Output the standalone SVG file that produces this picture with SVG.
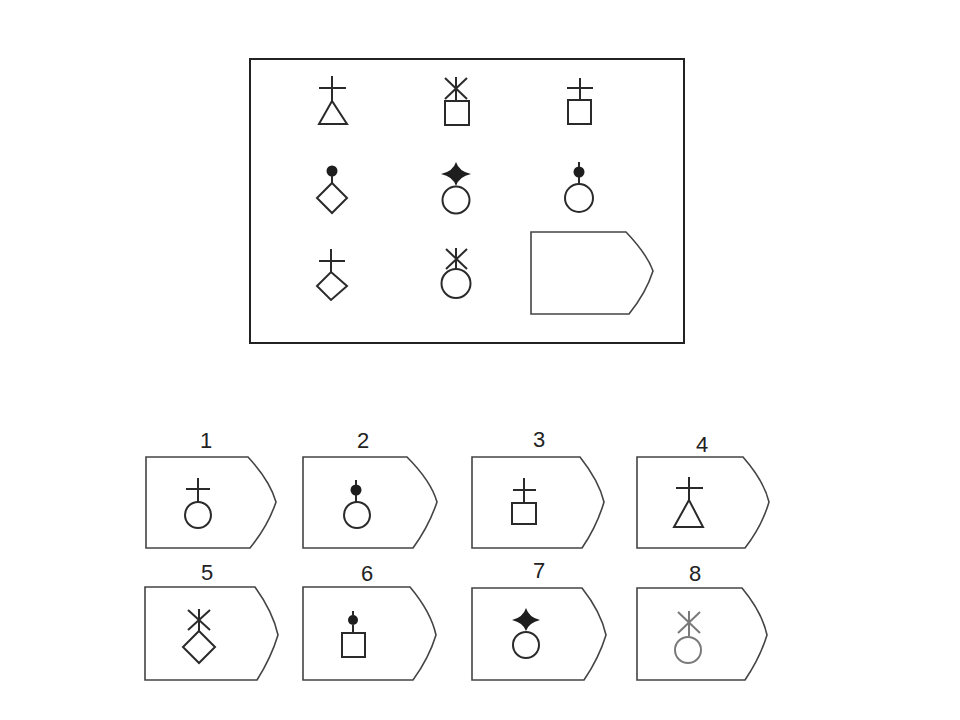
<svg xmlns="http://www.w3.org/2000/svg" width="960" height="720" viewBox="0 0 960 720">
<style>
.s{fill:none;stroke:#2a2a2a;stroke-width:2;stroke-linejoin:miter}
.f{fill:#1e1e1e;stroke:none}
.b{fill:#fff;stroke:#444;stroke-width:1.6}
.lt{stroke:#7a7a7a}
.lbl{font-family:"Liberation Sans",Arial,sans-serif;font-size:22px;fill:#222;text-anchor:middle}
</style>
<rect width="960" height="720" fill="#fff"/>
<g id="matrix">
<rect x="250" y="59" width="434" height="284" fill="none" stroke="#222" stroke-width="2"/>
<g id="m11" class="s"><line x1="319" y1="88" x2="346" y2="88"/><line x1="332" y1="76" x2="332" y2="101"/><polygon points="332,101 319,124 347,124"/></g>
<g id="m12" class="s"><line x1="445" y1="78" x2="467" y2="99"/><line x1="467" y1="78" x2="445" y2="99"/><line x1="456" y1="77" x2="456" y2="101"/><rect x="445" y="101" width="24" height="24"/></g>
<g id="m13" class="s"><line x1="567" y1="88" x2="593" y2="88"/><line x1="580" y1="78" x2="580" y2="100"/><rect x="568" y="100" width="23" height="24"/></g>
<g id="m21"><circle class="f" cx="332" cy="171" r="5.5"/><g class="s"><line x1="332" y1="176" x2="332" y2="183"/><polygon points="332,183 347,198 332,213 317,198"/></g></g>
<g id="m22"><path class="f" d="M441,174 Q453,171.5 456,162 Q459,171.5 471,174 Q459,176.5 456,186 Q453,176.5 441,174 Z"/><circle class="f" cx="456" cy="174" r="4"/><circle class="s" cx="456" cy="200" r="13.5"/></g>
<g id="m23"><circle class="f" cx="579" cy="172" r="5.5"/><g class="s"><line x1="579" y1="162" x2="579" y2="167"/><line x1="579" y1="177" x2="579" y2="184"/><circle cx="579" cy="198" r="14"/></g></g>
<g id="m31" class="s"><line x1="319" y1="261" x2="345" y2="261"/><line x1="331" y1="249" x2="331" y2="272"/><polygon points="331,272 347,286 331,300 317,286"/></g>
<g id="m32" class="s"><line x1="446" y1="249" x2="467" y2="269"/><line x1="467" y1="249" x2="446" y2="269"/><line x1="456" y1="248" x2="456" y2="269"/><circle cx="456" cy="283.5" r="14.5"/></g>
<g id="m33"><path class="b" d="M531,232 H626 Q647,254 653,271 Q646,293 629,314 H531 Z"/></g>
</g>
<g id="opt1"><text class="lbl" x="206" y="448">1</text><path class="b" d="M146,457 H248 Q270,481 276,502 Q268,526 250,548 H146 Z"/><g class="s"><line x1="186" y1="489" x2="210" y2="489"/><line x1="198" y1="478" x2="198" y2="502"/><circle cx="198" cy="515" r="13"/></g></g>
<g id="opt2"><text class="lbl" x="363" y="448">2</text><path class="b" d="M303,457 H407 Q431,481 437,502 Q429,526 413,548 H303 Z"/><circle class="f" cx="356" cy="490" r="5.5"/><g class="s"><line x1="356" y1="480" x2="356" y2="485"/><line x1="356" y1="495" x2="356" y2="502"/><circle cx="357" cy="515" r="13"/></g></g>
<g id="opt3"><text class="lbl" x="539" y="447">3</text><path class="b" d="M472,457 H580 Q599,481 604,502 Q597,526 582,548 H472 Z"/><g class="s"><line x1="513" y1="490" x2="536" y2="490"/><line x1="524" y1="478" x2="524" y2="503"/><rect x="512" y="503" width="24" height="21"/></g></g>
<g id="opt4"><text class="lbl" x="702" y="452">4</text><path class="b" d="M637,457 H743 Q764,481 769,502 Q762,526 745,548 H637 Z"/><g class="s"><line x1="676" y1="488" x2="703" y2="488"/><line x1="689" y1="477" x2="689" y2="500"/><polygon points="689,500 674,527 703,527"/></g></g>
<g id="opt5"><text class="lbl" x="207" y="580">5</text><path class="b" d="M145,587 H255 Q273,612 278,635 Q271,658 257,680 H145 Z"/><g class="s"><line x1="188" y1="610" x2="210" y2="630"/><line x1="210" y1="610" x2="188" y2="630"/><line x1="199" y1="609" x2="199" y2="631"/><polygon points="199,631 215,647 199,663 183,647"/></g></g>
<g id="opt6"><text class="lbl" x="367" y="581">6</text><path class="b" d="M303,587 H410 Q431,612 436,635 Q429,658 413,680 H303 Z"/><circle class="f" cx="353" cy="620" r="5"/><g class="s"><line x1="353" y1="611" x2="353" y2="616"/><line x1="353" y1="625" x2="353" y2="633"/><rect x="342" y="633" width="23" height="24"/></g></g>
<g id="opt7"><text class="lbl" x="539" y="578">7</text><path class="b" d="M472,588 H582 Q601,612 606,635 Q599,658 584,680 H472 Z"/><path class="f" d="M512,620 Q523,617.5 526,608 Q529,617.5 540,620 Q529,622.5 526,631 Q523,622.5 512,620 Z"/><circle class="f" cx="526" cy="620" r="4"/><circle class="s" cx="526" cy="645" r="13"/></g>
<g id="opt8"><text class="lbl" x="695" y="581">8</text><path class="b" d="M637,588 H742 Q762,612 767,635 Q760,658 745,680 H637 Z"/><g class="s lt"><line x1="678" y1="612" x2="700" y2="633"/><line x1="700" y1="612" x2="678" y2="633"/><line x1="689" y1="611" x2="689" y2="636"/><circle cx="688" cy="650" r="13"/></g></g>
</svg>
